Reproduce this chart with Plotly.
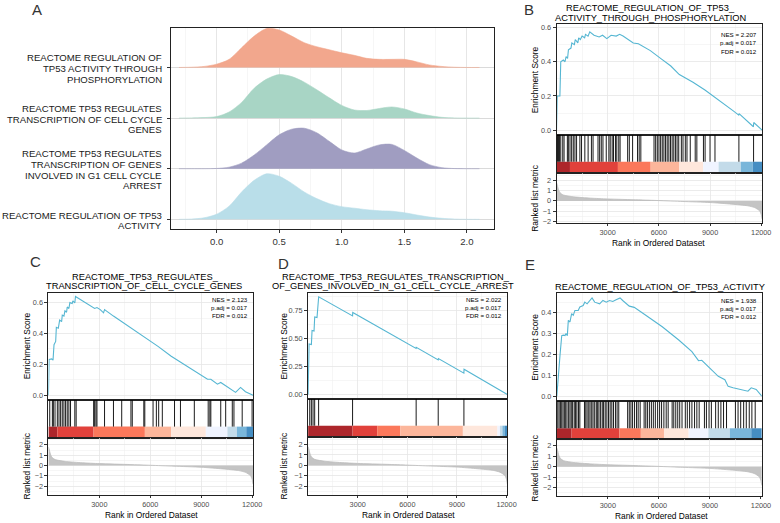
import plotly.graph_objects as go

# ---------------- DATA ----------------
# Panel A : ridge densities (height in row units) sampled along the x axis
ridge_x = [-0.3, -0.2, -0.1, 0.0, 0.1, 0.2, 0.3, 0.4, 0.5, 0.6, 0.7, 0.8, 0.9, 1.0,
           1.1, 1.2, 1.3, 1.4, 1.5, 1.6, 1.7, 1.8, 1.9, 2.0, 2.1]
ridge_labels = [
    ["REACTOME REGULATION OF", "TP53 ACTIVITY THROUGH", "PHOSPHORYLATION"],
    ["REACTOME TP53 REGULATES", "TRANSCRIPTION OF CELL CYCLE", "GENES"],
    ["REACTOME TP53 REGULATES", "TRANSCRIPTION OF GENES", "INVOLVED IN G1 CELL CYCLE", "ARREST"],
    ["REACTOME REGULATION OF TP53", "ACTIVITY"],
]
dens_phospho = [0, 0.005, 0.02, 0.065, 0.16, 0.39, 0.62, 0.77, 0.74, 0.62, 0.49, 0.41, 0.35, 0.29,
                0.24, 0.18, 0.16, 0.16, 0.16, 0.11, 0.05, 0.02, 0.005, 0, 0]
dens_cellcycle = [0, 0.003, 0.01, 0.03, 0.12, 0.31, 0.59, 0.77, 0.86, 0.82, 0.71, 0.56, 0.40, 0.25,
                  0.16, 0.15, 0.19, 0.22, 0.18, 0.10, 0.05, 0.015, 0.003, 0, 0]
dens_g1arrest = [0, 0, 0, 0.005, 0.03, 0.11, 0.27, 0.47, 0.67, 0.78, 0.80, 0.71, 0.54, 0.37,
                 0.31, 0.39, 0.47, 0.48, 0.36, 0.21, 0.08, 0.02, 0.003, 0, 0]
dens_tp53act = [0, 0.005, 0.03, 0.10, 0.26, 0.54, 0.77, 0.90, 0.85, 0.71, 0.54, 0.41, 0.31, 0.25,
                0.22, 0.19, 0.17, 0.16, 0.13, 0.085, 0.045, 0.02, 0.005, 0, 0]
ridge_dens = [dens_phospho, dens_cellcycle, dens_g1arrest, dens_tp53act]
ridge_ticks = [0.0, 0.5, 1.0, 1.5, 2.0]

# Shared ranked list metric
N_GENES = 12050
metric_rank = [1, 40, 120, 210, 400, 1000, 2000, 3000, 4800, 6000, 7400, 9000, 10250, 11200,
               11600, 11900, 12000, 12050]
metric_value = [1.8, 1.6, 1.1, 0.8, 0.58, 0.4, 0.27, 0.19, 0.1, 0.03, -0.06, -0.16, -0.32, -0.48,
                -0.65, -0.97, -1.35, -1.8]
rank_ticks = [3000, 6000, 9000, 12000]

# Colour levels of the position bar (RdBu-like brewer scale)
bar_palette = ["#08519C", "#3182BD", "#6BAED6", "#BDD7E7", "#EFF3FF",
               "#FEE5D9", "#FCAE91", "#FB6A4A", "#DE2D26", "#A50F15"]

# Panel B
title_B = ["REACTOME_REGULATION_OF_TP53_", "ACTIVITY_THROUGH_PHOSPHORYLATION"]
stats_B = ["NES = 2.207", "p.adj = 0.017", "FDR = 0.012"]
es_rank_B = [1, 40, 200, 250, 400, 500, 560, 650, 700, 850, 900, 1050, 1100, 1250, 1300, 1400, 1500,
             1650, 1700, 1850, 1950, 2200, 2500, 2700, 2950, 3200, 3500, 3700, 3900, 4200, 4500, 4800,
             5500, 6100, 6700, 7200, 8000, 8700, 9400, 10400, 10680, 10700, 11540, 11560, 12050]
es_val_B = [0, 0.20, 0.20, 0.40, 0.41, 0.40, 0.43, 0.42, 0.47, 0.48, 0.51, 0.50, 0.53, 0.51, 0.54, 0.53,
            0.55, 0.54, 0.56, 0.55, 0.575, 0.555, 0.545, 0.555, 0.535, 0.555, 0.55, 0.56, 0.55, 0.53, 0.51,
            0.505, 0.465, 0.42, 0.375, 0.325, 0.28, 0.235, 0.185, 0.11, 0.088, 0.097, 0.02, 0.045, 0.0]
hits_B = [58, 116, 174, 251, 367, 444, 637, 695, 792, 888, 985, 1081, 1178, 1371, 1468, 1661, 1854,
          2047, 2143, 2433, 2530, 2626, 2723, 2916, 3070, 3148, 3263, 3341, 3456, 3534, 3650, 3727,
          4171, 4268, 4461, 4750, 4847, 4943, 5716, 5812, 5909, 6005, 6102, 6199, 6295, 6392, 6488,
          6585, 6681, 6778, 6874, 6971, 7067, 7164, 7318, 7415, 7550, 7647, 7840, 8130, 8226, 8612,
          8709, 8999, 9288, 10690, 11550]
bar_edges_B = [1, 790, 3600, 5520, 7200, 8600, 9500, 10800, 11500, 12050]
bar_levels_B = [9, 8, 7, 6, 5, 4, 3, 2, 1]

# Panel C
title_C = ["REACTOME_TP53_REGULATES_", "TRANSCRIPTION_OF_CELL_CYCLE_GENES"]
stats_C = ["NES = 2.123", "p.adj = 0.017", "FDR = 0.012"]
es_rank_C = [1, 39, 194, 272, 330, 428, 467, 583, 661, 778, 816, 914, 972, 1069, 1108, 1205, 1264,
             1400, 1439, 1555, 1594, 1983, 2469, 2663, 2722, 2858, 3052, 3246, 3305, 3830, 4316, 4860,
             5482, 6454, 7232, 8009, 8787, 9370, 9564, 9953, 10148, 10439, 10731, 11022, 11314, 11605, 12050]
es_val_C = [0, 0.232, 0.236, 0.228, 0.328, 0.349, 0.44, 0.434, 0.487, 0.477, 0.519, 0.513, 0.547,
            0.538, 0.572, 0.562, 0.6, 0.594, 0.611, 0.598, 0.64, 0.615, 0.579, 0.570, 0.562, 0.568,
            0.555, 0.534, 0.555, 0.513, 0.477, 0.44, 0.391, 0.317, 0.253, 0.2, 0.147, 0.104, 0.104,
            0.072, 0.083, 0.062, 0.036, 0.019, 0.051, 0.023, 0.0]
hits_C = [78, 233, 292, 389, 525, 622, 719, 816, 914, 1011, 1108, 1205, 1302, 1555, 1633, 2663, 2722,
          2799, 2858, 3305, 3830, 4316, 4860, 4938, 5618, 5676, 6162, 6357, 6493, 6707, 7426, 7776,
          8592, 9409, 9506, 9564, 10148, 10439, 10828, 10925, 11411, 11994]
bar_edges_C = [1, 525, 2660, 5680, 7230, 9270, 10540, 11100, 11650, 12050]
bar_levels_C = [9, 8, 7, 6, 5, 4, 3, 2, 1]

# Panel D
title_D = ["REACTOME_TP53_REGULATES_TRANSCRIPTION_", "OF_GENES_INVOLVED_IN_G1_CELL_CYCLE_ARREST"]
stats_D = ["NES = 2.022", "p.adj = 0.017", "FDR = 0.012"]
es_rank_D = [1, 60, 200, 240, 360, 400, 540, 640, 2690, 2700, 6530, 6540, 7868, 7880, 9420, 9430, 12050]
es_val_D = [0, 0.45, 0.445, 0.57, 0.565, 0.69, 0.685, 0.87, 0.70, 0.73, 0.41, 0.42, 0.308, 0.32,
            0.19, 0.225, 0.0]
hits_D = [100, 199, 299, 398, 637, 2689, 6534, 7868, 9422]
bar_edges_D = [1, 2690, 4180, 5575, 9360, 11450, 11600, 11750, 11900, 12050]
bar_levels_D = [9, 8, 7, 6, 5, 4, 3, 2, 1]

# Panel E
title_E = ["REACTOME_REGULATION_OF_TP53_ACTIVITY"]
stats_E = ["NES = 1.938", "p.adj = 0.017", "FDR = 0.012"]
es_rank_E = [1, 97, 194, 291, 387, 484, 542, 620, 678, 775, 872, 969, 1065, 1259, 1356, 1550, 1646,
             1782, 1937, 2073, 2228, 2518, 2712, 2906, 3099, 3293, 3487, 3719, 3874, 4261, 4552, 4843,
             5230, 6198, 7169, 7942, 8329, 8523, 9104, 9491, 9879, 10072, 10363, 10654, 10944, 11235,
             11428, 11719, 12050]
es_val_E = [0, 0.126, 0.2, 0.29, 0.292, 0.29, 0.30, 0.29, 0.363, 0.355, 0.395, 0.387, 0.41, 0.41,
            0.427, 0.434, 0.45, 0.442, 0.458, 0.47, 0.45, 0.442, 0.458, 0.45, 0.458, 0.453, 0.461, 0.47,
            0.458, 0.431, 0.425, 0.41, 0.387, 0.332, 0.269, 0.213, 0.17, 0.172, 0.126, 0.095, 0.079,
            0.047, 0.04, 0.035, 0.032, 0.024, 0.04, 0.032, 0.0]
hits_E = [58, 136, 213, 291, 368, 446, 523, 600, 697, 775, 852, 930, 1027, 1104, 1182, 1278, 1356,
          1627, 1705, 1782, 1879, 1956, 2053, 2131, 2228, 2324, 2402, 2479, 2576, 2673, 2751, 2847,
          2944, 3041, 3138, 3235, 3332, 3448, 3545, 3642, 4165, 4261, 4358, 4455, 4571, 4688, 4784,
          4901, 5133, 5230, 5327, 5443, 5559, 5675, 5792, 5927, 6043, 6160, 6295, 6431, 6547, 6780,
          6876, 6993, 7109, 7225, 7361, 7554, 7671, 7806, 7942, 8097, 8232, 8368, 8678, 8794, 8949,
          9085, 9336, 9491, 9646, 9801, 9976, 10499, 10654, 10809, 10983, 11138, 11312, 11467, 11661]
bar_edges_E = [1, 870, 3680, 4940, 6300, 7750, 8910, 10170, 11430, 12050]
bar_levels_E = [9, 8, 7, 6, 5, 4, 3, 2, 1]

# ---------------- STYLE / LAYOUT ----------------
W, H = 780, 523
FONT = "Liberation Sans, Arial, Helvetica, sans-serif"
GRID = "#E6E6E6"
GRID_MINOR = "#F0F0F0"
TICKC = "#4D4D4D"
ES_COLOR = "#55B6D2"
RIDGE_COLORS = ["#F2A78D", "#A8D5C5", "#A09DC1", "#B9DEE9"]


def px(x):
    return x / W


def py(y):
    return 1 - y / H


fig = go.Figure()
layout = dict(width=W, height=H, margin=dict(l=0, r=0, t=0, b=0), paper_bgcolor="white",
              plot_bgcolor="white", showlegend=False, font=dict(family=FONT, color="#000"))
annotations = []
counter = [0]


def new_axis():
    counter[0] += 1
    i = counter[0]
    return "" if i == 1 else str(i)


def ann(text, x, y, size, color="#000", xanchor="center", yanchor="middle", angle=0, xref="paper",
        yref="paper", yshift=0):
    annotations.append(dict(text=text, x=px(x) if xref == "paper" else x,
                            y=py(y) if yref == "paper" else y, xref=xref, yref=yref,
                            showarrow=False, font=dict(size=size, color=color, family=FONT),
                            xanchor=xanchor, yanchor=yanchor, textangle=angle, yshift=yshift,
                            borderpad=0))


# ---------------- PANEL A ----------------
sA = new_axis()
n_rows = len(ridge_dens)
for k, dens in enumerate(ridge_dens):
    base = n_rows - k
    fig.add_trace(go.Scatter(x=ridge_x, y=[base] * len(ridge_x), mode="lines",
                             line=dict(width=0, color=RIDGE_COLORS[k]), hoverinfo="skip",
                             xaxis="x" + sA, yaxis="y" + sA))
    fig.add_trace(go.Scatter(x=ridge_x, y=[base + d for d in dens], mode="lines",
                             line=dict(width=0.6, color=RIDGE_COLORS[k], shape="spline", smoothing=0.8),
                             fill="tonexty", fillcolor=RIDGE_COLORS[k], hoverinfo="skip",
                             xaxis="x" + sA, yaxis="y" + sA))
    lines = ridge_labels[k]
    nl = len(lines)
    for j, t in enumerate(lines):
        ann(t, 165, base, 9.6, color="#1A1A1A", xanchor="right", yref="y" + sA,
            yshift=-((j - (nl - 1) / 2) * 10.6) - 1)

layout["xaxis" + sA] = dict(domain=[px(173.3), px(500)], range=[-0.362, 2.218], anchor="y" + sA,
                            tickvals=ridge_ticks, ticktext=[f"{v:.1f}" for v in ridge_ticks],
                            ticks="outside", ticklen=3, tickcolor="#333", tickwidth=1,
                            tickfont=dict(size=9.6, color="#333"),
                            showgrid=True, gridcolor=GRID, gridwidth=1,
                            minor=dict(tickvals=[-0.25, 0.25, 0.75, 1.25, 1.75], showgrid=True,
                                       gridcolor=GRID_MINOR, gridwidth=0.6),
                            showline=True, mirror=True, linecolor="#222", linewidth=1.2,
                            zeroline=False)
layout["yaxis" + sA] = dict(domain=[py(230), py(27)], range=[0.804, 4.784], anchor="x" + sA,
                            tickvals=[1, 2, 3, 4], ticktext=["", "", "", ""], ticks="outside",
                            ticklen=3, tickcolor="#333", showgrid=True, gridcolor="#DADADA",
                            gridwidth=1, showline=True, mirror=True, linecolor="#222",
                            linewidth=1.2, zeroline=False)
ann("A", 37.5, 8.5, 15, color="#333")


# ---------------- GSEA PANELS ----------------
def add_gsea(g, title, stats, es_rank, es_val, hits, edges, levels):
    se, sh, sr = new_axis(), new_axis(), new_axis()
    dom_x = [px(g["x0"]), px(g["x1"])]
    base_x = dict(domain=dom_x, range=[1, N_GENES], showline=True, mirror=True, linecolor="#222",
                  linewidth=1, zeroline=False, tickmode="linear", tick0=0, dtick=3000)
    # Enrichment score
    fig.add_trace(go.Scatter(x=es_rank, y=es_val, mode="lines", line=dict(color=ES_COLOR, width=1.1),
                             hoverinfo="skip", xaxis="x" + se, yaxis="y" + se))
    layout["xaxis" + se] = dict(base_x, anchor="y" + se, showticklabels=False, ticks="",
                                showgrid=True, gridcolor=GRID, gridwidth=0.8,
                                minor=dict(dtick=1500, tick0=0, showgrid=True, gridcolor=GRID_MINOR,
                                           gridwidth=0.6))
    layout["yaxis" + se] = dict(domain=[py(g["es"][1]), py(g["es"][0])], range=g["es_range"],
                                anchor="x" + se, tickmode="linear", tick0=0, dtick=g["es_dtick"],
                                tickformat=g["es_fmt"], ticks="outside", ticklen=3, tickcolor="#333",
                                tickfont=dict(size=7.3, color=TICKC), showgrid=True, gridcolor=GRID,
                                gridwidth=0.8,
                                minor=dict(dtick=g["es_dtick"] / 2, tick0=0, showgrid=True,
                                           gridcolor=GRID_MINOR, gridwidth=0.6),
                                showline=True, mirror=True, linecolor="#222", linewidth=1,
                                zeroline=False)
    # Hits + colour bar
    hx, hy = [], []
    for r in hits:
        hx += [r, r, None]
        hy += [0.29, 1, None]
    fig.add_trace(go.Scatter(x=hx, y=hy, mode="lines", line=dict(color="black", width=0.9),
                             hoverinfo="skip", xaxis="x" + sh, yaxis="y" + sh))
    centers = [(edges[i] + edges[i + 1]) / 2 for i in range(len(levels))]
    widths = [edges[i + 1] - edges[i] for i in range(len(levels))]
    fig.add_trace(go.Bar(x=centers, y=[0.29] * len(levels), width=widths, base=0,
                         marker=dict(color=[bar_palette[l] for l in levels], line=dict(width=0)),
                         opacity=0.9, hoverinfo="skip", xaxis="x" + sh, yaxis="y" + sh))
    layout["xaxis" + sh] = dict(base_x, anchor="y" + sh, showticklabels=False, ticks="",
                                showgrid=False)
    layout["yaxis" + sh] = dict(domain=[py(g["hit"][1]), py(g["hit"][0])], range=[0, 1],
                                anchor="x" + sh, showticklabels=False, ticks="", showgrid=False,
                                showline=True, mirror=True, linecolor="#222", linewidth=1,
                                zeroline=False)
    # Ranked list metric
    fig.add_trace(go.Scatter(x=metric_rank, y=metric_value, mode="lines",
                             line=dict(color="#BDBDBD", width=0.8, shape="spline", smoothing=0.6),
                             fill="tozeroy", fillcolor="#C4C4C4", hoverinfo="skip",
                             xaxis="x" + sr, yaxis="y" + sr))
    layout["xaxis" + sr] = dict(base_x, anchor="y" + sr, tickmode="array", tickvals=rank_ticks,
                                ticktext=[str(v) for v in rank_ticks], ticks="outside", ticklen=2,
                                tickcolor="#333", tickfont=dict(size=7.3, color=TICKC),
                                showgrid=True, gridcolor=GRID, gridwidth=0.8,
                                minor=dict(tickvals=[1500, 4500, 7500, 10500], showgrid=True,
                                           gridcolor=GRID_MINOR, gridwidth=0.6, ticks=""))
    layout["yaxis" + sr] = dict(domain=[py(g["rk"][1]), py(g["rk"][0])], range=g["rk_range"],
                                anchor="x" + sr, tickvals=[-2, -1, 0, 1, 2], ticks="outside",
                                ticklen=3, tickcolor="#333", tickfont=dict(size=7.3, color=TICKC),
                                showgrid=True, gridcolor=GRID, gridwidth=0.8,
                                minor=dict(tickvals=[-2.5, -1.5, -0.5, 0.5, 1.5, 2.5], showgrid=True,
                                           gridcolor=GRID_MINOR, gridwidth=0.6),
                                showline=True, mirror=True, linecolor="#222", linewidth=1,
                                zeroline=False)
    # Texts
    for (tx, ty), t in zip(g["title_pos"], title):
        ann(t, tx, ty, 9.3)
    for ty, t in zip(g["stats_y"], stats):
        ann(t, g["stats_x"], ty, 6.2, xanchor="right")
    ann("Enrichment Score", g["ytitle_x"], (g["es"][0] + g["es"][1]) / 2, 8.4, angle=-90)
    ann("Ranked list metric", g["ytitle_x"], (g["rk"][0] + g["rk"][1]) / 2, 8.4, angle=-90)
    ann("Rank in Ordered Dataset", g["xtitle"][0], g["xtitle"][1], 8.4)
    ann(g["letter"], g["letter_pos"][0], g["letter_pos"][1], 15, color="#333")


geo_B = dict(x0=563, x1=771, es=(23.3, 135), hit=(135, 173), rk=(173, 224),
             es_range=[-0.028, 0.62], es_dtick=0.2, es_fmt=".1f", rk_range=[-2.2, 2.77],
             title_pos=[(658, 7.3), (658, 16.7)], stats_x=766.7, stats_y=[33.3, 42.3, 51],
             ytitle_x=541, xtitle=(666, 243.5), letter="B", letter_pos=(535, 9))
geo_C = dict(x0=49, x1=256, es=(294, 401.7), hit=(401.7, 440), rk=(440, 498),
             es_range=[-0.028, 0.664], es_dtick=0.2, es_fmt=".1f", rk_range=[-2.86, 2.70],
             title_pos=[(147, 277.7), (145.5, 287.3)], stats_x=251.7, stats_y=[300.7, 309, 317],
             ytitle_x=27.5, xtitle=(153.5, 517.7), letter="C", letter_pos=(36, 263))
geo_D = dict(x0=311.7, x1=513.3, es=(294, 401), hit=(401, 439), rk=(439, 497.7),
             es_range=[-0.04, 0.906], es_dtick=0.25, es_fmt=".2f", rk_range=[-2.83, 2.76],
             title_pos=[(400.8, 277.7), (397.5, 287.3)], stats_x=509.3, stats_y=[300.7, 308.5, 317],
             ytitle_x=287, xtitle=(413, 517.7), letter="D", letter_pos=(287, 265))
geo_E = dict(x0=563.3, x1=770.7, es=(294, 403.3), hit=(403.3, 441.7), rk=(441.7, 499.3),
             es_range=[-0.024, 0.495], es_dtick=0.1, es_fmt=".1f", rk_range=[-2.86, 2.63],
             title_pos=[(667.5, 288.3)], stats_x=767.3, stats_y=[301.7, 310, 318.3],
             ytitle_x=541, xtitle=(669, 519), letter="E", letter_pos=(536, 266))

add_gsea(geo_B, title_B, stats_B, es_rank_B, es_val_B, hits_B, bar_edges_B, bar_levels_B)
add_gsea(geo_C, title_C, stats_C, es_rank_C, es_val_C, hits_C, bar_edges_C, bar_levels_C)
add_gsea(geo_D, title_D, stats_D, es_rank_D, es_val_D, hits_D, bar_edges_D, bar_levels_D)
add_gsea(geo_E, title_E, stats_E, es_rank_E, es_val_E, hits_E, bar_edges_E, bar_levels_E)

layout["annotations"] = annotations
fig.update_layout(**layout)
fig.write_html("out.html", config={"displayModeBar": False, "staticPlot": True},
               post_script="document.body.style.margin='0';document.body.style.overflow='hidden';")
